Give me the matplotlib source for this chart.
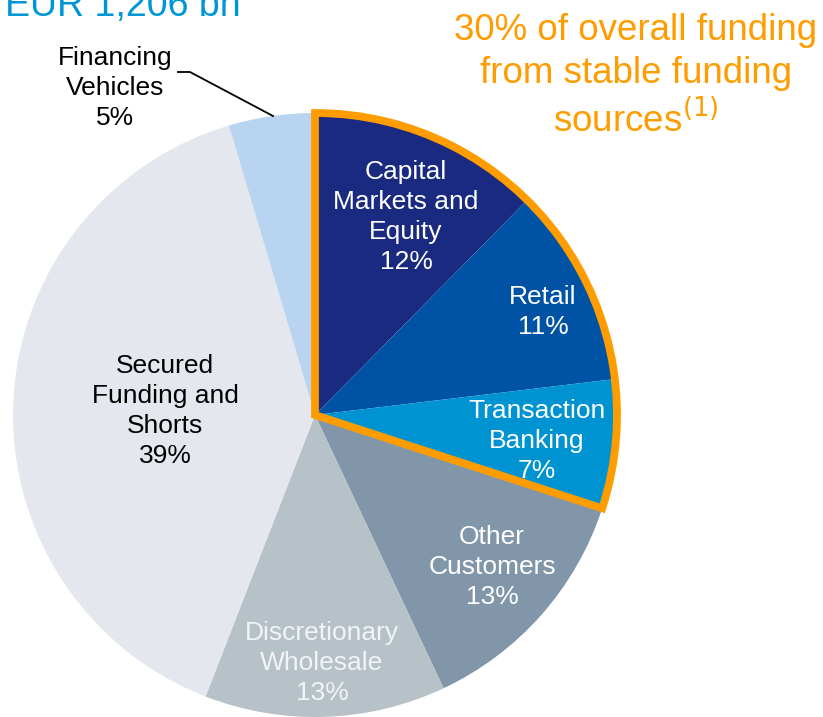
import matplotlib.pyplot as plt
from matplotlib.patches import Wedge

plt.rcParams['font.family'] = ['Liberation Sans', 'DejaVu Sans']

# funding mix, clockwise from 12 o'clock
segments = ['Capital\nMarkets and\nEquity', 'Retail', 'Transaction\nBanking',
            'Other\nCustomers', 'Discretionary\nWholesale', 'Secured\nFunding and\nShorts',
            'Financing\nVehicles']
shares = [12.4, 10.7, 6.9, 13.0, 12.9, 39.5, 4.6]
share_labels = ['12%', '11%', '7%', '13%', '13%', '39%', '5%']
colors = ['#192A80', '#0052A5', '#0093D2', '#8296AA', '#B6C1C8', '#E4E8EE', '#B8D4F0']
stable_count = 3  # first three segments are stable funding

W, H = 823, 717
fig = plt.figure(figsize=(W / 100, H / 100), dpi=100)
ax = fig.add_axes([0, 0, 1, 1])

cx, cy, r = 315, 302, 302
wedges, _ = ax.pie(shares, colors=colors, startangle=90, counterclock=False,
                   center=(cx, cy), radius=r, frame=True,
                   wedgeprops=dict(linewidth=0))
ax.set_xlim(0, W)
ax.set_ylim(0, H)
ax.set_aspect('equal')
ax.axis('off')

# orange outline around the stable funding slices
t1 = wedges[0].theta2
t0 = wedges[stable_count - 1].theta1
ax.add_patch(Wedge((cx, cy), r, t0, t1, facecolor='none', edgecolor='#FF9C00',
                   linewidth=5.6, joinstyle='miter', zorder=5))

# label positions in pixels from top-left
pos = [(406, 217), (543, 312), (537, 441), (492, 567), (322, 663), (165, 411), (115, 88)]
txt_colors = ['white', 'white', 'white', 'white', '#F2F4F6', 'black', 'black']
for name, pct, (x, y), c in zip(segments, share_labels, pos, txt_colors):
    ax.text(x, H - y, name + '\n' + pct, ha='center', va='center', color=c,
            fontsize=19, linespacing=1.32, zorder=6)

# leader line for financing vehicles
ax.plot([178, 190, 273], [H - 72, H - 72, H - 116], color='black', lw=1.3, zorder=6)

ax.text(5, H - 16, 'EUR 1,206 bn', ha='left', va='baseline', color='#0096D6',
        fontsize=27)
ax.text(636, H - 76, '30% of overall funding\nfrom stable funding\nsources$^{(1)}$',
        ha='center', va='center', color='#FF9C00', fontsize=26.5, linespacing=1.28)

fig.savefig('out.png', dpi=100)
